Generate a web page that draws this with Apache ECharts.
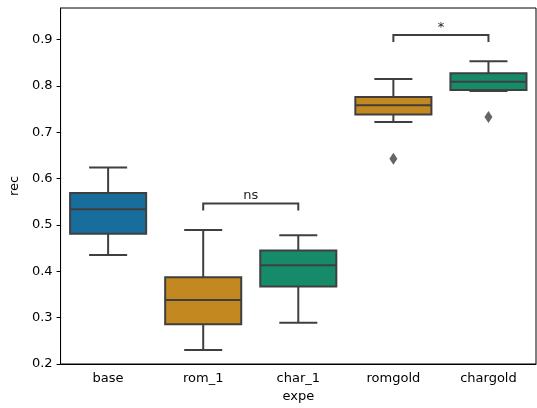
<!DOCTYPE html>
<html>
<head>
<meta charset="utf-8">
<script src="https://cdn.jsdelivr.net/npm/echarts@6/dist/echarts.min.js"></script>
<style>
  html, body { margin: 0; padding: 0; background: #fff; }
  #main { width: 537px; height: 408px; }
</style>
</head>
<body>
<div id="main"></div>
<script>
// chart data
var categories = ['base', 'rom_1', 'char_1', 'romgold', 'chargold'];
var whiskerLow = [0.435, 0.230, 0.289, 0.722, 0.789];
var quart1 = [0.481, 0.286, 0.367, 0.738, 0.791];
var medians = [0.534, 0.338, 0.413, 0.758, 0.809];
var quart3 = [0.569, 0.387, 0.445, 0.776, 0.827];
var whiskerHigh = [0.624, 0.489, 0.478, 0.815, 0.853];
var outlierCat = [3, 4];
var outlierVal = [0.643, 0.733];
// significance brackets
var bracketFrom = [1, 3];
var bracketTo = [2, 4];
var bracketY = [0.546, 0.910];
var bracketLabels = ['ns', '*'];
var yTicks = [0.2, 0.3, 0.4, 0.5, 0.6, 0.7, 0.8, 0.9];

var palette = ['#176d9c', '#c3881f', '#168b6a', '#c3881f', '#168b6a'];
var lineColor = '#3f3f3f';
var font = 'DejaVu Sans';
var fs = 13;

var boxData = [];
for (var i = 0; i < categories.length; i++) {
	boxData.push([i, whiskerLow[i], quart1[i], medians[i], quart3[i], whiskerHigh[i]]);
}
var outlierData = [];
for (var j = 0; j < outlierCat.length; j++) {
	outlierData.push([outlierCat[j], outlierVal[j]]);
}
var bracketData = [];
for (var k = 0; k < bracketFrom.length; k++) {
	bracketData.push([bracketFrom[k], bracketTo[k], bracketY[k]]);
}

function renderBox(params, api) {
	var idx = api.value(0);
	var x = api.coord([idx, 0.5])[0];
	var band = api.size([1, 0])[0];
	var bw = band * 0.8;
	var cap = bw / 2;
	var yLow = api.coord([idx, api.value(1)])[1];
	var yQ1 = api.coord([idx, api.value(2)])[1];
	var yMed = api.coord([idx, api.value(3)])[1];
	var yQ3 = api.coord([idx, api.value(4)])[1];
	var yHigh = api.coord([idx, api.value(5)])[1];
	var ls = { stroke: lineColor, lineWidth: 2 };
	return {
		type: 'group',
		children: [
			{ type: 'line', shape: { x1: x, y1: yQ1, x2: x, y2: yLow }, style: ls },
			{ type: 'line', shape: { x1: x, y1: yQ3, x2: x, y2: yHigh }, style: ls },
			{ type: 'line', shape: { x1: x - cap / 2, y1: yLow, x2: x + cap / 2, y2: yLow }, style: ls },
			{ type: 'line', shape: { x1: x - cap / 2, y1: yHigh, x2: x + cap / 2, y2: yHigh }, style: ls },
			{
				type: 'rect',
				shape: { x: x - bw / 2, y: yQ3, width: bw, height: yQ1 - yQ3 },
				style: { fill: palette[params.dataIndex], stroke: lineColor, lineWidth: 2 }
			},
			{ type: 'line', shape: { x1: x - bw / 2, y1: yMed, x2: x + bw / 2, y2: yMed }, style: ls }
		]
	};
}

function renderBracket(params, api) {
	var p1 = api.coord([api.value(0), api.value(2)]);
	var p2 = api.coord([api.value(1), api.value(2)]);
	var leg = 7;
	return {
		type: 'group',
		children: [
			{
				type: 'polyline',
				shape: { points: [[p1[0], p1[1] + leg], [p1[0], p1[1]], [p2[0], p1[1]], [p2[0], p1[1] + leg]] },
				style: { stroke: lineColor, lineWidth: 2, fill: null }
			},
			{
				type: 'text',
				style: {
					text: bracketLabels[params.dataIndex],
					x: (p1[0] + p2[0]) / 2,
					y: p1[1] - 1,
					align: 'center',
					verticalAlign: 'bottom',
					fill: '#222',
					font: fs + 'px "' + font + '"'
				}
			}
		]
	};
}

var myChart = echarts.init(document.getElementById('main'));
var option = {
	animation: false,
	backgroundColor: '#fff',
	textStyle: { fontFamily: font },
	grid: {
		left: 59,
		right: 1,
		top: 8,
		bottom: 44,
		show: true,
		borderColor: '#000',
		borderWidth: 1
	},
	xAxis: {
		type: 'category',
		data: categories,
		name: 'expe',
		nameLocation: 'middle',
		nameGap: 26,
		nameTextStyle: { color: '#000', fontSize: fs, fontFamily: font },
		axisLine: { lineStyle: { color: '#000', width: 1 } },
		axisTick: { alignWithLabel: true, length: 4, lineStyle: { color: '#000' } },
		axisLabel: { color: '#000', fontSize: fs, fontFamily: font, margin: 8 },
		splitLine: { show: false }
	},
	yAxis: {
		type: 'value',
		min: 0.2,
		max: 0.968,
		interval: 0.1,
		name: 'rec',
		nameLocation: 'middle',
		nameGap: 35,
		nameTextStyle: { color: '#000', fontSize: fs, fontFamily: font },
		axisLine: { show: true, lineStyle: { color: '#000', width: 1 } },
		axisTick: { show: true, length: 4, lineStyle: { color: '#000' } },
		axisLabel: {
			color: '#000', fontSize: fs, fontFamily: font, margin: 8,
			showMaxLabel: false,
			formatter: function (v) {
				for (var t = 0; t < yTicks.length; t++) {
					if (Math.abs(yTicks[t] - v) < 1e-6) return yTicks[t].toFixed(1);
				}
				return '';
			}
		},
		splitLine: { show: false }
	},
	series: [{
		type: 'custom',
		renderItem: renderBox,
		encode: { x: 0, y: [1, 2, 3, 4, 5] },
		data: boxData,
		z: 2
	}, {
		type: 'scatter',
		symbol: 'diamond',
		symbolSize: [8, 12],
		itemStyle: { color: lineColor },
		data: outlierData,
		z: 3
	}, {
		type: 'custom',
		renderItem: renderBracket,
		encode: { x: [0, 1], y: 2 },
		data: bracketData,
		z: 4
	}]
};
myChart.setOption(option);
</script>
</body>
</html>
